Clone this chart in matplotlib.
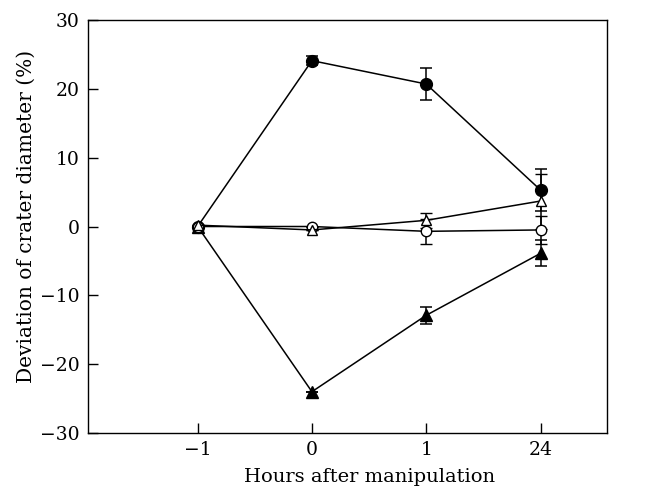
import matplotlib
matplotlib.use('Agg')
import matplotlib.pyplot as plt

plt.rcParams['font.family'] = ['DejaVu Serif', 'Liberation Serif']

# x 카테고리 (시간)
hours = ['\u22121', '0', '1', '24']
xpos = [0, 1, 2, 3]

# 시리즈 값과 오차
filled_circle = [0, 24.1, 20.7, 5.3]
filled_circle_err = [0, 0.7, 2.3, 3.0]
open_circle = [0, 0, -0.7, -0.5]
open_circle_err = [0, 0, 1.8, 2.0]
open_tri = [0.2, -0.5, 0.9, 3.7]
open_tri_err = [0, 0, 1.1, 4.0]
filled_tri = [0, -24.0, -12.9, -3.9]
filled_tri_err = [0, 0, 1.2, 1.9]

fig = plt.figure(figsize=(6.56, 4.93), dpi=100)
ax = fig.add_axes([0.134, 0.1217, 0.791, 0.8377])

common = dict(color='black', lw=1.1, capsize=4.5, elinewidth=1.1, capthick=1.1)
ax.errorbar(xpos, filled_circle, yerr=filled_circle_err, fmt='-o', ms=8.5,
            mfc='black', mec='black', zorder=3, **common)
ax.errorbar(xpos, filled_tri, yerr=filled_tri_err, fmt='-^', ms=8.5,
            mfc='black', mec='black', zorder=3, **common)
ax.errorbar(xpos, open_circle, yerr=open_circle_err, fmt='-o', ms=7.5,
            mfc='white', mec='black', mew=1.0, zorder=4, **common)
ax.errorbar(xpos, open_tri, yerr=open_tri_err, fmt='-^', ms=7.5,
            mfc='white', mec='black', mew=1.0, zorder=4, **common)

ax.set_xlim(-0.96, 3.58)
ax.set_ylim(-30, 30)
ax.set_xticks(xpos)
ax.set_xticklabels(hours)
ax.set_yticks(range(-30, 31, 10))
ax.set_yticklabels([str(v).replace('-', '\u2212') for v in range(-30, 31, 10)])
ax.tick_params(direction='in', length=7, width=1.0, labelsize=13.5, pad=6)
for s in ax.spines.values():
    s.set_linewidth(1.0)
ax.set_xlabel('Hours after manipulation', fontsize=14)
ax.set_ylabel('Deviation of crater diameter (%)', fontsize=14.5)
# 라벨 위치: 눈금 범위 가운데
ax.xaxis.set_label_coords(0.542, -0.085)
ax.yaxis.set_label_coords(-0.100, 0.525)

fig.savefig('out.png', dpi=100)
